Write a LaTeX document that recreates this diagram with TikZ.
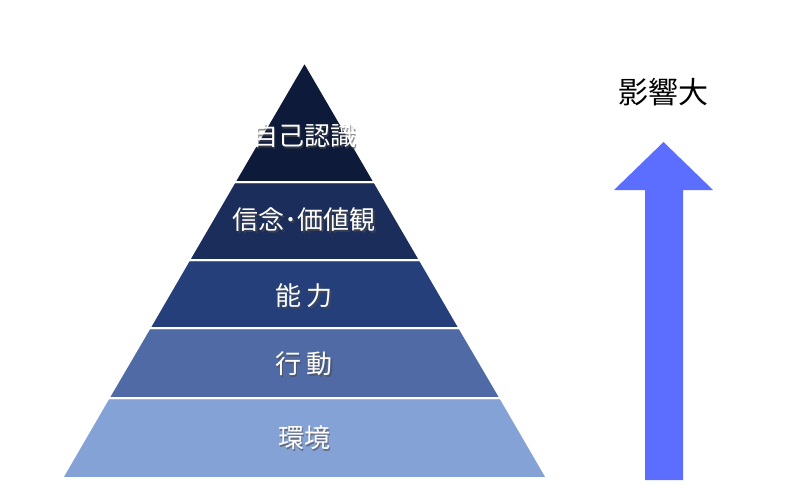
\documentclass[tikz,border=0pt]{standalone}
\usepackage{fontspec}
\newfontfamily\cjk{Noto Sans CJK JP}
\definecolor{lvA}{HTML}{0D1A3A}
\definecolor{lvB}{HTML}{1B2D5A}
\definecolor{lvC}{HTML}{243F7A}
\definecolor{lvD}{HTML}{4F6AA5}
\definecolor{lvE}{HTML}{85A2D6}
\definecolor{arrowblue}{HTML}{5B6EFF}
\tikzset{
	layer/.style={draw=white, line width=2pt, line join=round},
	label/.style={font=\cjk\fontsize{26}{28}\selectfont, text=white},
	shade/.style={font=\cjk\fontsize{26}{28}\selectfont, text=black!70, opacity=0.6},
}
\newcommand{\layertext}[3]{
\node[shade] at (#1+1.5,#2+1.5) {#3};
\node(#3)[label] at (#1,#2) {#3};
}
\begin{document}
\begin{tikzpicture}[x=1pt, y=-1pt]
	\useasboundingbox (0,0) rectangle (800,500);
	\fill[lvE,layer] (108.5,398) -- (500.5,398) -- (547,478) -- (62,478) -- cycle;
	\fill[lvD,layer] (149.5,328) -- (459.5,328) -- (500.5,398) -- (108.5,398) -- cycle;
	\fill[lvC,layer] (189,260) -- (420,260) -- (459.5,328) -- (149.5,328) -- cycle;
	\fill[lvB,layer] (234.5,182) -- (374.5,182) -- (420,260) -- (189,260) -- cycle;
	\fill[lvA,layer] (304.5,62) -- (374.5,182) -- (234.5,182) -- cycle;

	\layertext{304}{136}{自己認識}
	\layertext{304}{220}{信念･価値観}
	\layertext{304}{296}{能 力}
	\layertext{304}{364}{行 動}
	\layertext{304}{438}{環境}

	\node(big)[font=\cjk\fontsize{30}{32}\selectfont] at (663,92) {影響大};
	\fill[arrowblue] (645,480) -- (645,190) -- (614,190) -- (663.5,142)
		-- (713,190) -- (683,190) -- (683,480) -- cycle;
\end{tikzpicture}
\end{document}
